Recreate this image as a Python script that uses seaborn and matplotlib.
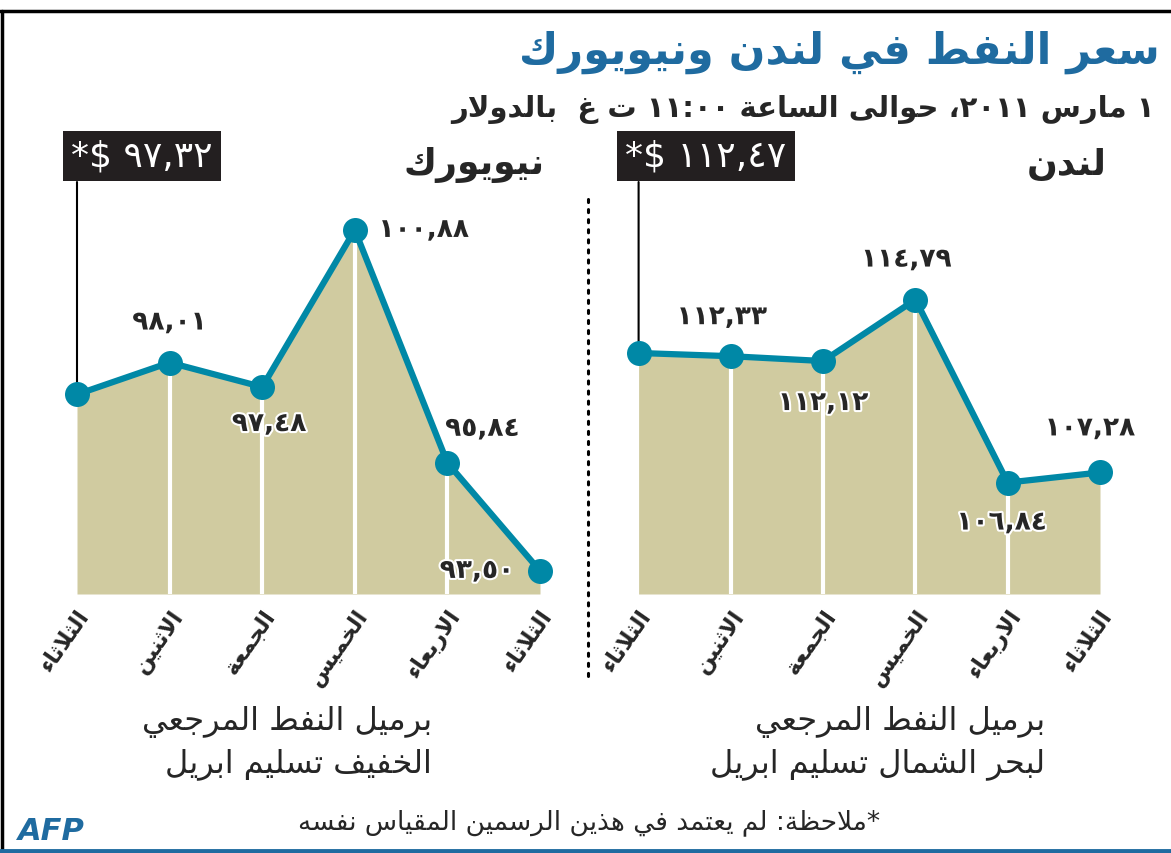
import re
import matplotlib
matplotlib.use('Agg')
import matplotlib.pyplot as plt
import matplotlib.patheffects as pe
from matplotlib.lines import Line2D
import seaborn as sns

sns.set_theme()
sns.set_style('white')
plt.rcParams['font.family'] = ['DejaVu Sans']

W, H = 1171, 854

TITLE = 'سعر النفط في لندن ونيويورك'
SUBTITLE = '١ مارس ٢٠١١، حوالى الساعة ١١:٠٠ ت غ  بالدولار'
DAYS = ['الثلاثاء', 'الاثنين', 'الجمعة', 'الخميس', 'الاربعاء', 'الثلاثاء']
NY_NAME = 'نيويورك'
LONDON_NAME = 'لندن'
NY_PRICES = [97.32, 98.01, 97.48, 100.88, 95.84, 93.50]
LONDON_PRICES = [112.47, 112.33, 112.12, 114.79, 106.84, 107.28]
NY_NOTE = 'برميل النفط المرجعي\nالخفيف تسليم ابريل'
LONDON_NOTE = 'برميل النفط المرجعي\nلبحر الشمال تسليم ابريل'
FOOTNOTE = '*ملاحظة: لم يعتمد في هذين الرسمين المقياس نفسه'

# label offsets from each point, in pixels (right, down)
NY_OFFSETS = [None, (0, -40), (7, 37), (69, 0), (35, -34), (-63, 0)]
LONDON_OFFSETS = [None, (-9, -39), (0, 42), (-9, -40), (-6, 40), (-10, -44)]

FILL = '#d0cba0'
LINE = '#0088a6'
BLUE = '#1f6ba0'
BOX = '#231f20'

# arabic presentation forms: first code point, number of forms
_PF = {
    'ء': (0xFE80, 1), 'ا': (0xFE8D, 2), 'ب': (0xFE8F, 4), 'ة': (0xFE93, 2),
    'ت': (0xFE95, 4), 'ث': (0xFE99, 4), 'ج': (0xFE9D, 4), 'ح': (0xFEA1, 4),
    'خ': (0xFEA5, 4), 'د': (0xFEA9, 2), 'ذ': (0xFEAB, 2), 'ر': (0xFEAD, 2),
    'ز': (0xFEAF, 2), 'س': (0xFEB1, 4), 'ش': (0xFEB5, 4), 'ص': (0xFEB9, 4),
    'ض': (0xFEBD, 4), 'ط': (0xFEC1, 4), 'ظ': (0xFEC5, 4), 'ع': (0xFEC9, 4),
    'غ': (0xFECD, 4), 'ف': (0xFED1, 4), 'ق': (0xFED5, 4), 'ك': (0xFED9, 4),
    'ل': (0xFEDD, 4), 'م': (0xFEE1, 4), 'ن': (0xFEE5, 4), 'ه': (0xFEE9, 4),
    'و': (0xFEED, 2), 'ى': (0xFEEF, 2), 'ي': (0xFEF1, 4),
}


def _shape(text):
    out = []
    prev_joins = False
    i = 0
    while i < len(text):
        c = text[i]
        if c not in _PF:
            out.append(c)
            prev_joins = False
            i += 1
            continue
        if c == 'ل' and i + 1 < len(text) and text[i + 1] == 'ا':
            out.append('\uFEFC' if prev_joins else '\uFEFB')
            prev_joins = False
            i += 2
            continue
        base, n = _PF[c]
        nxt = text[i + 1] if i + 1 < len(text) else ''
        to_next = n == 4 and nxt in _PF and _PF[nxt][1] > 1
        if n == 1:
            form = 0
        elif prev_joins and to_next:
            form = 3
        elif to_next:
            form = 2
        elif prev_joins:
            form = 1
        else:
            form = 0
        out.append(chr(base + form))
        prev_joins = n == 4
        i += 1
    return ''.join(out)


def ar(text):
    lines = []
    for line in text.split('\n'):
        tokens = re.findall(r'[0-9٠-٩]+(?:[,:.][0-9٠-٩]+)*|.', _shape(line))
        lines.append(''.join(reversed(tokens)))
    return '\n'.join(lines)


def ar_num(v):
    s = f'{v:.2f}'.replace('.', ',')
    return s.translate(str.maketrans('0123456789', '٠١٢٣٤٥٦٧٨٩'))


def px(x, y):
    return x / W, 1 - y / H


def draw_panel(ax, prices, ylim, offsets, box_xy):
    x = list(range(len(prices)))
    ax.fill_between(x, prices, ylim[0], color=FILL, lw=0, zorder=1)
    ax.vlines(x[1:-1], ylim[0], prices[1:-1], color='white', lw=3, zorder=2)
    sns.lineplot(x=x, y=prices, ax=ax, color=LINE, lw=4.5, marker='o',
                 markersize=18, markeredgewidth=0, clip_on=False, zorder=4)
    ax.set_xlim(0, len(prices) - 1)
    ax.set_ylim(ylim)
    ax.set_yticks([])
    ax.set_xticks(x)
    ax.set_xticklabels([ar(d) for d in DAYS], rotation=55, ha='right', va='top',
                       rotation_mode='anchor', fontsize=16, fontweight='bold')
    ax.tick_params(axis='x', length=0, pad=8)
    ax.set_xlabel('')
    ax.set_ylabel('')
    sns.despine(ax=ax, left=True, bottom=True)

    for xi, (v, off) in enumerate(zip(prices, offsets)):
        if off is None:
            continue
        ax.annotate(ar_num(v), (xi, v), xytext=(off[0] * 0.72, -off[1] * 0.72),
                    textcoords='offset points', ha='center', va='center',
                    fontsize=19, fontweight='bold', zorder=5,
                    path_effects=[pe.withStroke(linewidth=3, foreground='white')])

    # latest price in a black box, tied to the first point by a thin line
    ax.annotate('', (0, prices[0]), xytext=(0, H - 183),
                textcoords=('data', 'figure pixels'),
                arrowprops=dict(arrowstyle='-', color='black', lw=1.5,
                                shrinkA=0, shrinkB=0), zorder=3)
    fig.text(*px(*box_xy), '*$ ' + ar_num(prices[0]), ha='center', va='center',
             color='white', fontsize=26,
             bbox=dict(boxstyle='square,pad=0.22', fc=BOX, ec='none'))


fig = plt.figure(figsize=(W / 100, H / 100), dpi=100)

bottom = (H - 595) / H
height = 455 / H
ax_ny = fig.add_axes([77 / W, bottom, 463 / W, height])
ax_ld = fig.add_axes([638.6 / W, bottom, 461.4 / W, height])

draw_panel(ax_ny, NY_PRICES, (93.0, 93.0 + 455 / 46.2), NY_OFFSETS, (142, 157))
draw_panel(ax_ld, LONDON_PRICES, (102.0, 102.0 + 455 / 23.02), LONDON_OFFSETS, (706, 157))

fig.text(*px(1160, 52), ar(TITLE), ha='right', va='center', fontsize=31,
         fontweight='bold', color=BLUE)
fig.text(*px(1155, 110), ar(SUBTITLE), ha='right', va='center', fontsize=21,
         fontweight='bold')
fig.text(*px(545, 165), ar(NY_NAME), ha='right', va='center', fontsize=26,
         fontweight='bold')
fig.text(*px(1107, 165), ar(LONDON_NAME), ha='right', va='center', fontsize=26,
         fontweight='bold')
fig.text(*px(432, 743), ar(NY_NOTE), ha='right', va='center', fontsize=23,
         linespacing=1.4)
fig.text(*px(1045, 743), ar(LONDON_NOTE), ha='right', va='center', fontsize=23,
         linespacing=1.4)
fig.text(*px(880, 823), ar(FOOTNOTE), ha='right', va='center', fontsize=19)
fig.text(*px(18, 832), 'AFP', ha='left', va='center', fontsize=22,
         fontweight='bold', style='italic', color=BLUE)

# frame, separator and bottom rule
fig.add_artist(Line2D([0, 1], [1 - 11.5 / H] * 2, color='black', lw=2.5))
fig.add_artist(Line2D([1.5 / W] * 2, [2 / H, 1 - 11.5 / H], color='black', lw=2.5))
fig.add_artist(Line2D([0, 1], [2 / H] * 2, color=BLUE, lw=3.5))
fig.add_artist(Line2D([588 / W] * 2, px(0, 200)[1:] + px(0, 680)[1:], color='black',
                      lw=2.2, linestyle=(0, (1, 2.3)), dash_capstyle='round'))

fig.savefig('out.png', dpi=100)
